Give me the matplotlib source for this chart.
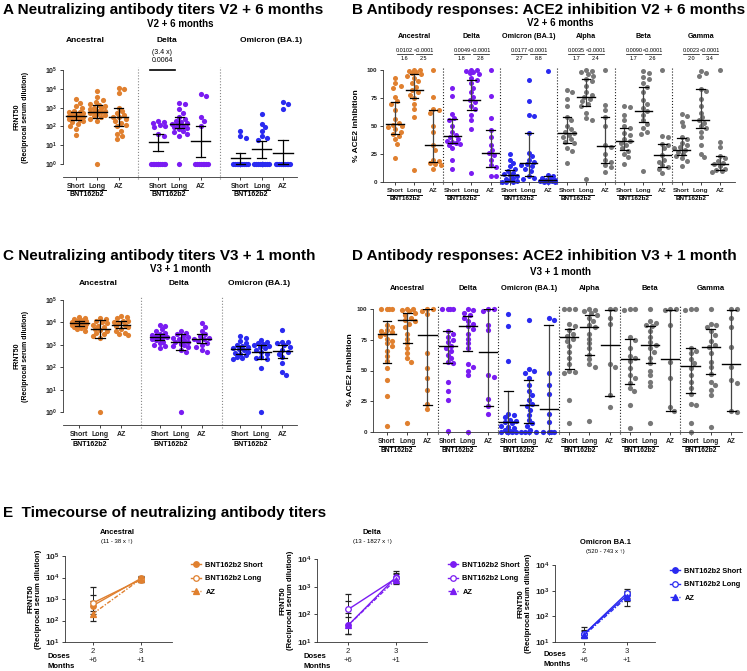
import numpy as np
import matplotlib
matplotlib.use('Agg')
import matplotlib.pyplot as plt
from matplotlib.lines import Line2D

plt.rcParams['font.family'] = ['Liberation Sans', 'DejaVu Sans']
plt.rcParams['font.weight'] = 'bold'
plt.rcParams['mathtext.fontset'] = 'custom'
plt.rcParams['mathtext.rm'] = 'Liberation Sans:bold'
plt.rcParams['mathtext.bf'] = 'Liberation Sans:bold'

groups = ['Short', 'Long', 'AZ']
frnt_variants = ['Ancestral', 'Delta', 'Omicron (BA.1)']
ace_variants = ['Ancestral', 'Delta', 'Omicron (BA.1)', 'Alpha', 'Beta', 'Gamma']

# --- A: FRNT50, V2 + 6 months (Short, Long, AZ) ---
a_ancestral = [
    [3000, 1800, 1200, 900, 700, 600, 550, 500, 450, 400, 380, 350, 320, 300, 280, 250, 220, 200, 170, 140, 100, 70, 35],
    [8000, 3500, 2500, 2000, 1600, 1400, 1200, 1000, 900, 800, 700, 650, 600, 550, 500, 450, 400, 350, 300, 250, 200, 1],
    [11000, 10000, 6000, 1000, 700, 500, 400, 320, 300, 250, 200, 150, 120, 100, 60, 40, 30, 22]]
a_delta = [
    [200, 180, 150, 120, 100, 90, 40, 30, 1, 1, 1, 1, 1, 1, 1, 1, 1, 1],
    [1800, 1500, 800, 500, 300, 250, 200, 180, 150, 140, 120, 100, 90, 80, 70, 60, 50, 40, 30, 1],
    [5000, 4000, 300, 200, 100, 1, 1, 1, 1, 1, 1, 1, 1]]
a_omicron = [
    [55, 30, 25, 1, 1, 1, 1, 1, 1, 1, 1, 1, 1, 1, 1, 1, 1],
    [450, 130, 90, 60, 30, 25, 20, 1, 1, 1, 1, 1, 1, 1, 1, 1, 1, 1, 1, 1],
    [2000, 1500, 800, 1, 1, 1, 1, 1, 1, 1, 1, 1, 1]]
a_med = [[370, 600, 320], [14, 140, 16], [2, 6, 3.8]]
a_lo = [[230, 270, 110], [5, 80, 2.5], [1, 2.2, 1]]
a_hi = [[600, 1400, 900], [38, 300, 100], [3.8, 16, 18]]

# --- B: % ACE2 inhibition, V2 + 6 months ---
b_ancestral = [
    [93, 88, 86, 84, 76, 72, 70, 64, 56, 53, 51, 50, 49, 47, 45, 43, 41, 38, 34, 21],
    [100, 100, 99, 98, 97, 96, 95, 93, 90, 88, 85, 82, 80, 78, 75, 70, 65, 58, 11],
    [100, 76, 65, 64, 62, 50, 45, 33, 29, 20, 19, 17, 16, 15, 12]]
b_delta = [
    [84, 77, 61, 57, 55, 50, 45, 42, 40, 38, 37, 36, 35, 34, 33, 30, 20, 12],
    [100, 100, 99, 98, 97, 96, 93, 91, 88, 84, 80, 76, 73, 71, 68, 65, 60, 55, 47, 8],
    [100, 77, 57, 46, 40, 33, 29, 26, 24, 20, 15, 13, 5, 5]]
b_omicron = [
    [25, 20, 17, 14, 12, 10, 8, 7, 6, 5, 4, 3, 2, 1, 0, 0, 0],
    [91, 72, 60, 59, 44, 26, 23, 20, 18, 16, 15, 14, 12, 10, 5, 4, 3],
    [99, 6, 5, 4, 3, 2, 2, 1, 1, 0, 0, 0]]
b_alpha = [
    [82, 80, 74, 68, 58, 55, 50, 47, 45, 44, 42, 40, 38, 36, 35, 30, 28, 17],
    [100, 99, 98, 96, 95, 92, 90, 86, 80, 78, 76, 74, 72, 70, 68, 62, 57, 55, 3],
    [100, 69, 64, 58, 50, 33, 31, 25, 20, 18, 15, 13, 9]]
b_beta = [
    [68, 67, 60, 55, 50, 48, 44, 42, 38, 37, 35, 33, 30, 28, 25, 22, 16],
    [99, 97, 94, 92, 88, 85, 80, 73, 70, 66, 63, 60, 55, 52, 48, 45, 43, 10],
    [100, 41, 40, 34, 33, 30, 24, 20, 18, 15, 13, 12, 8]]
b_gamma = [
    [61, 59, 54, 50, 40, 38, 35, 33, 31, 30, 29, 27, 25, 23, 21, 19, 14],
    [99, 97, 95, 83, 81, 74, 68, 62, 58, 55, 53, 50, 48, 45, 40, 33, 25, 22],
    [100, 36, 31, 23, 21, 19, 17, 16, 14, 12, 11, 10, 9]]
b_med = [[52, 82, 33], [41, 73, 26], [6, 17, 2], [44, 76, 32], [37, 63, 24], [29, 55, 16]]
b_lo = [[43, 75, 18], [35, 64, 13], [1, 5, 0], [35, 68, 17], [29, 54, 13], [24, 48, 11]]
b_hi = [[71, 96, 64], [56, 91, 46], [11, 44, 5], [58, 92, 58], [48, 85, 34], [39, 83, 23]]
b_pvals = [['0.0102', '<0.0001'], ['0.0049', '<0.0001'], ['0.0177', '<0.0001'],
           ['0.0035', '<0.0001'], ['0.0090', '<0.0001'], ['0.0023', '<0.0001']]
b_folds = [['1.6', '2.5'], ['1.8', '2.8'], ['2.7', '8.8'], ['1.7', '2.4'], ['1.7', '2.6'], ['2.0', '3.4']]

# --- C: FRNT50, V3 + 1 month ---
c_ancestral = [
    [18000, 16000, 14000, 13000, 12000, 11000, 10500, 10000, 9500, 9000, 8500, 8000, 7500, 7000, 6500, 6000, 5500, 5000, 4000],
    [16000, 14000, 12000, 10000, 9000, 8000, 7000, 6000, 5000, 4500, 4000, 3500, 3000, 2500, 2000, 1],
    [20000, 17000, 15000, 12000, 11000, 10000, 9000, 8000, 7000, 6000, 5000, 4000, 3500, 3000, 2700]]
c_delta = [
    [8000, 7000, 5000, 4000, 3500, 3000, 2700, 2500, 2300, 2200, 2000, 1800, 1600, 1400, 1200, 1000, 900, 700],
    [4000, 3500, 3000, 2500, 2200, 2000, 1800, 1600, 1400, 1300, 1100, 1000, 900, 800, 600, 500, 1],
    [9500, 6500, 4000, 3000, 2500, 2000, 1900, 1800, 1500, 1200, 1000, 800, 600, 500]]
c_omicron = [
    [2600, 2000, 1500, 1200, 1000, 900, 800, 700, 650, 600, 500, 450, 400, 350, 300, 250, 230],
    [1600, 1400, 1200, 1100, 1000, 900, 800, 700, 600, 500, 400, 300, 250, 230, 95, 1],
    [4500, 1400, 1300, 1200, 1000, 800, 600, 500, 400, 300, 150, 60, 45]]
c_med = [[9000, 5000, 8000], [2200, 1300, 1900], [650, 480, 520]]
c_lo = [[7000, 2000, 5500], [1600, 600, 1200], [400, 230, 270]]
c_hi = [[11500, 13000, 11000], [3000, 3000, 3000], [900, 1000, 1000]]

# --- D: % ACE2 inhibition, V3 + 1 month ---
d_ancestral = [
    [100, 100, 100, 100, 87, 85, 83, 82, 81, 80, 78, 76, 74, 72, 70, 66, 62, 58, 52, 42, 29, 5],
    [100, 100, 99, 98, 97, 95, 93, 91, 90, 88, 85, 80, 76, 72, 68, 64, 60, 57, 7],
    [100, 100, 98, 96, 64, 52, 44, 34, 23, 19]]
d_delta = [
    [100, 100, 100, 100, 82, 80, 77, 75, 73, 70, 68, 66, 63, 60, 57, 56, 41, 33, 26, 1],
    [100, 99, 97, 95, 93, 90, 88, 86, 84, 80, 76, 72, 68, 55, 53, 50, 46, 0],
    [100, 100, 98, 87, 83, 46, 45, 27, 21, 15]]
d_omicron = [
    [96, 86, 58, 15, 14, 12, 10, 9, 8, 7, 5, 4, 3, 2, 1, 0, 0, 0, 0, 0],
    [91, 51, 50, 48, 44, 38, 33, 30, 26, 23, 21, 18, 14, 10, 7, 5, 2, 0, 0, 0, 0],
    [93, 91, 48, 38, 31, 15, 8, 0, 0, 0, 0]]
d_alpha = [
    [100, 100, 100, 88, 86, 83, 80, 78, 76, 74, 70, 65, 60, 55, 50, 49, 48, 26, 7],
    [100, 99, 98, 97, 95, 93, 90, 87, 85, 80, 76, 72, 68, 63, 59, 55, 53, 9],
    [100, 100, 93, 88, 55, 53, 30, 20]]
d_beta = [
    [100, 100, 99, 77, 75, 68, 62, 60, 58, 52, 46, 44, 40, 36, 33, 22, 3],
    [100, 90, 89, 87, 86, 82, 77, 73, 71, 68, 65, 60, 56, 50, 46, 41, 37, 7],
    [100, 100, 99, 87, 57, 44, 20, 17]]
d_gamma = [
    [100, 100, 99, 68, 66, 64, 59, 56, 52, 46, 41, 36, 31, 23, 22, 7, 0],
    [100, 88, 87, 85, 82, 79, 74, 71, 69, 64, 57, 53, 47, 41, 38, 34, 30, 4],
    [100, 100, 93, 85, 69, 53, 42, 40, 17, 16]]
d_med = [[80, 91, 79], [70, 86, 65], [8, 22, 19], [77, 85, 71], [59, 71, 59], [54, 69, 55]]
d_lo = [[56, 72, 22], [56, 66, 21], [0, 7, 0], [51, 63, 29], [39, 56, 17], [32, 47, 17]]
d_hi = [[90, 97, 100], [82, 94, 100], [33, 42, 87], [84, 95, 99], [76, 86, 99], [68, 84, 99]]

# --- E: timecourse (dose 2 +6 months, dose 3 +1 month), series Short, Long, AZ ---
e_doses = [2, 3]
e_series = ['BNT162b2 Short', 'BNT162b2 Long', 'AZ']
e_anc_mid = [[490, 9000], [650, 8000], [205, 8500]]
e_anc_lo = [[200, 7000], [270, 6000], [100, 6500]]
e_anc_hi = [[1550, 11500], [3800, 11000], [800, 11000]]
e_delta_mid = [[40, 2200], [150, 2000], [40, 1800]]
e_delta_lo = [[20, 1600], [80, 1320], [20, 1300]]
e_delta_hi = [[115, 3000], [550, 3700], [295, 2800]]
e_omi_mid = [[20, 650], [20, 800], [18, 550]]
e_omi_lo = [[15, 400], [15, 500], [14, 260]]
e_omi_hi = [[37, 1000], [30, 1170], [28, 900]]

ORANGE = '#E0802F'
PURPLE = '#7A1CF2'
BLUE = '#2A2AF0'
GREY = '#777777'

W, H = 747, 671
fig = plt.figure(figsize=(W / 100, H / 100), dpi=100)


def fx(px):
    return px / W


def fy(px):
    return 1 - px / H


def add_ax(l, t, r, b):
    return fig.add_axes([l / W, 1 - b / H, (r - l) / W, (b - t) / H])


def swarm(ax, x0, vals, d=4.6, maxw=0.42):
    pts = ax.transData.transform([(x0, v) for v in vals])
    ys = pts[:, 1]
    unit = ax.transData.transform([(1, 0)])[0, 0] - ax.transData.transform([(0, 0)])[0, 0]
    maxpx = maxw * unit
    step = d / 2.5
    cands = [0.0]
    k = 1
    while k * step <= maxpx:
        cands += [k * step, -k * step]
        k += 1
    placed = []
    offs = []
    for y in ys:
        best, bestd = 0.0, -1
        for c in cands:
            md = min([np.hypot(c - px, y - py) for px, py in placed] or [1e9])
            if md >= d:
                best = c
                break
            if md > bestd:
                best, bestd = c, md
        placed.append((best, y))
        offs.append(best)
    return x0 + np.array(offs) / unit


def style(ax, fs):
    for s in ['top', 'right']:
        ax.spines[s].set_visible(False)
    for s in ['left', 'bottom']:
        ax.spines[s].set_linewidth(0.6)
        ax.spines[s].set_color('#333333')
    ax.tick_params(length=2.5, width=0.6, labelsize=fs, pad=1.5, colors='#222222')


def strip(ax, data, colors, med, lo, hi, period, size, vcol):
    for v, gvals in enumerate(data):
        for g, vals in enumerate(gvals):
            x0 = period * v + g
            xs = swarm(ax, x0, vals)
            ax.scatter(xs, vals, s=size, color=colors[v], lw=0, zorder=2, clip_on=False)
            ax.plot([x0, x0], [lo[v][g], hi[v][g]], color=vcol, lw=0.9, zorder=3)
            for yy in (lo[v][g], hi[v][g]):
                ax.plot([x0 - 0.22, x0 + 0.22], [yy, yy], color='k', lw=0.9, zorder=3)
            ax.plot([x0 - 0.45, x0 + 0.45], [med[v][g]] * 2, color='k', lw=1.0, zorder=3)


def group_labels(ax, nv, period, fs, tick_fs, bnt_px, line_px):
    ticks = [period * v + g for v in range(nv) for g in range(3)]
    ax.set_xticks(ticks)
    ax.set_xticklabels(groups * nv, fontsize=tick_fs, fontweight='bold')
    hpx = ax.get_window_extent().height
    tr = ax.get_xaxis_transform()
    for v in range(nv):
        x0 = period * v
        ax.text(x0 + 0.5, -bnt_px / hpx, 'BNT162b2', transform=tr, ha='center', va='center',
                fontsize=fs, fontweight='bold')
        ax.plot([x0 - 0.4, x0 + 1.4], [-line_px / hpx] * 2, transform=tr, color='k', lw=0.7,
                clip_on=False)


def log_axis(ax, ymin):
    ax.set_yscale('log')
    ax.set_ylim(ymin, 1e5)
    ax.set_yticks([1, 10, 100, 1e3, 1e4, 1e5])
    ax.set_yticklabels([r'$\mathbf{10^{%d}}$' % i for i in range(6)])
    ax.minorticks_off()
    ax.spines['left'].set_bounds(1, 1e5)


def separators(ax, xs, color, ls):
    for x in xs:
        ax.axvline(x, ymin=-0.02, ymax=1.03, color=color, lw=0.8, ls=ls, clip_on=False, zorder=1)


TITLE_FS = 11

# ---------------- Panel A ----------------
fig.text(fx(3), fy(14), 'A Neutralizing antibody titers V2 + 6 months', fontsize=TITLE_FS,
         fontweight='bold', va='baseline')
fig.text(fx(180), fy(24), 'V2 + 6 months', fontsize=7, fontweight='bold', ha='center', va='center')
axA = add_ax(63, 70, 297, 177)
pA = 3.85
axA.set_xlim(-0.61, 10.36)
log_axis(axA, 10 ** -0.69)
style(axA, 5)
strip(axA, [a_ancestral, a_delta, a_omicron], [ORANGE, PURPLE, BLUE], a_med, a_lo, a_hi, pA, 14, 'k')
separators(axA, [2.9, 2.9 + pA], '#888888', ':')
group_labels(axA, 3, pA, 5, 5, 18, 13)
for v, (name, off) in enumerate(zip(frnt_variants, [0.45, 0.4, 1.45])):
    axA.text(pA * v + off, 1 + 29 / 107, name, transform=axA.get_xaxis_transform(),
             ha='center', va='center', fontsize=6, fontweight='bold')
axA.plot([pA - 0.4, pA + 0.8], [1e5, 1e5], color='k', lw=1.2, clip_on=False)
axA.text(pA + 0.2, 1 + 18 / 107, '(3.4 x)', transform=axA.get_xaxis_transform(), ha='center',
         va='center', fontsize=5, fontweight='normal')
axA.text(pA + 0.2, 1 + 9 / 107, '0.0064', transform=axA.get_xaxis_transform(), ha='center',
         va='center', fontsize=5, fontweight='normal')
fig.text(fx(21), fy(117), 'FRNT50\n(Reciprocal serum dilution)', rotation=90, ha='center',
         va='center', fontsize=5, fontweight='bold', linespacing=1.3)

# ---------------- Panel B ----------------
fig.text(fx(352), fy(14), 'B Antibody responses: ACE2 inhibition V2 + 6 months', fontsize=TITLE_FS,
         fontweight='bold', va='baseline')
fig.text(fx(560), fy(23), 'V2 + 6 months', fontsize=7, fontweight='bold', ha='center', va='center')
axB = add_ax(383, 70, 735, 182)
axB.set_xlim(-0.63, 17.8)
axB.set_ylim(0, 100)
axB.set_yticks([0, 25, 50, 75, 100])
style(axB, 4.5)
strip(axB, [b_ancestral, b_delta, b_omicron, b_alpha, b_beta, b_gamma],
      [ORANGE, PURPLE, BLUE, GREY, GREY, GREY], b_med, b_lo, b_hi, 3, 13, '#444444')
separators(axB, [2.5 + 3 * i for i in range(5)], '#222222', ':')
group_labels(axB, 6, 3, 4.6, 4.6, 17, 13)
trB = axB.get_xaxis_transform()
for v, name in enumerate(ace_variants):
    axB.text(3 * v + 1, 1 + 33 / 112, name, transform=trB, ha='center', va='center',
             fontsize=5.2, fontweight='bold')
    for j in range(2):
        xc = 3 * v + 0.5 + j
        axB.text(xc, 1 + 19.5 / 112, b_pvals[v][j], transform=trB, ha='center', va='center',
                 fontsize=4, fontweight='normal')
        axB.plot([xc - 0.42, xc + 0.42], [1 + 16.5 / 112] * 2, transform=trB, color='k', lw=0.5,
                 clip_on=False)
        axB.text(xc, 1 + 11 / 112, b_folds[v][j], transform=trB, ha='center', va='center',
                 fontsize=4, fontweight='normal')
fig.text(fx(357), fy(126), '% ACE2 inhibition', rotation=90, ha='center', va='center',
         fontsize=6, fontweight='bold')

# ---------------- Panel C ----------------
fig.text(fx(3), fy(260), 'C Neutralizing antibody titers V3 + 1 month', fontsize=TITLE_FS,
         fontweight='bold', va='baseline')
fig.text(fx(180), fy(269), 'V3 + 1 month', fontsize=7, fontweight='bold', ha='center', va='center')
axC = add_ax(63, 300, 297, 425)
axC.set_xlim(-0.77, 10.4)
log_axis(axC, 10 ** -0.58)
style(axC, 5)
strip(axC, [c_ancestral, c_delta, c_omicron], [ORANGE, PURPLE, BLUE], c_med, c_lo, c_hi, pA, 14, 'k')
separators(axC, [2.95, 2.95 + pA], '#888888', ':')
group_labels(axC, 3, pA, 5, 5, 19, 14)
for v, name in enumerate(frnt_variants):
    axC.text(pA * v + 0.9, 1 + 17 / 125, name, transform=axC.get_xaxis_transform(),
             ha='center', va='center', fontsize=6, fontweight='bold')
fig.text(fx(21), fy(356), 'FRNT50\n(Reciprocal serum dilution)', rotation=90, ha='center',
         va='center', fontsize=5, fontweight='bold', linespacing=1.3)

# ---------------- Panel D ----------------
fig.text(fx(352), fy(260), 'D Antibody responses: ACE2 inhibition V3 + 1 month', fontsize=TITLE_FS,
         fontweight='bold', va='baseline')
fig.text(fx(560), fy(272), 'V3 + 1 month', fontsize=7, fontweight='bold', ha='center', va='center')
axD = add_ax(373, 309, 742, 432)
axD.set_xlim(-0.69, 17.54)
axD.set_ylim(0, 100)
axD.set_yticks([0, 25, 50, 75, 100])
style(axD, 4.5)
strip(axD, [d_ancestral, d_delta, d_omicron, d_alpha, d_beta, d_gamma],
      [ORANGE, PURPLE, BLUE, GREY, GREY, GREY], d_med, d_lo, d_hi, 3, 14, '#444444')
separators(axD, [2.5 + 3 * i for i in range(5)], '#222222', ':')
group_labels(axD, 6, 3, 4.8, 4.8, 18, 14)
for v, name in enumerate(ace_variants):
    axD.text(3 * v + 1, 1 + 20 / 123, name, transform=axD.get_xaxis_transform(), ha='center',
             va='center', fontsize=5.5, fontweight='bold')
fig.text(fx(350), fy(370), '% ACE2 inhibition', rotation=90, ha='center', va='center',
         fontsize=6, fontweight='bold')

# ---------------- Panel E ----------------
fig.text(fx(3), fy(517), 'E  Timecourse of neutralizing antibody titers', fontsize=TITLE_FS,
         fontweight='bold', va='baseline')

e_panels = [
    ('Ancestral', '(11 - 38 x \u2191)', ORANGE, e_anc_mid, e_anc_lo, e_anc_hi,
     (65, 556, 172, 642), (1.42, 3.65), 5, (117, 533), (187, 558), (48, 657)),
    ('Delta', '(13 - 1827 x \u2191)', PURPLE, e_delta_mid, e_delta_lo, e_delta_hi,
     (317, 559, 427, 642), (1.35, 3.65), 4, (372, 533), (444, 558), (303, 657)),
    ('Omicron BA.1', '(520 - 743 x \u2191)', BLUE, e_omi_mid, e_omi_lo, e_omi_hi,
     (555, 565, 655, 642), (1.33, 3.65), 4, (605, 542), (666, 564), (543, 654)),
]
markers = ['o', 'o', '^']
lstyles = ['-', '-', (0, (3, 1.2, 1, 1.2))]
for name, sub, col, mid, lo, hi, box, xl, top, tpos, lpos, dpos in e_panels:
    ax = add_ax(*box)
    ax.set_yscale('log')
    ax.set_ylim(10, 10 ** top)
    ax.set_xlim(*xl)
    ax.set_yticks([10 ** i for i in range(1, top + 1)])
    ax.set_yticklabels([r'$\mathbf{10^{%d}}$' % i for i in range(1, top + 1)])
    ax.minorticks_off()
    style(ax, 6)
    ax.set_xticks(e_doses)
    ax.set_xticklabels(['2\n+6', '3\n+1'], fontsize=5.5, fontweight='normal', linespacing=1.5)
    handles = []
    for i in range(3):
        m = np.array(mid[i], dtype=float)
        err = [m - np.array(lo[i]), np.array(hi[i]) - m]
        face = 'white' if i == 1 else col
        ax.errorbar(e_doses, m, yerr=err, color=col, ecolor='#222222', elinewidth=0.7,
                    capsize=2, capthick=0.7, lw=1.0, ls=lstyles[i], marker=markers[i],
                    ms=4, mfc=face, mec=col, mew=0.9, clip_on=False)
        handles.append(Line2D([], [], color=col, lw=1.0, ls=lstyles[i], marker=markers[i],
                              ms=4, mfc=face, mec=col, mew=0.9, label=e_series[i]))
    leg = ax.legend(handles=handles, loc='upper left', bbox_to_anchor=(fx(lpos[0]), fy(lpos[1])),
                    bbox_transform=fig.transFigure, frameon=False, fontsize=5.3,
                    handlelength=1.4, handletextpad=0.6, labelspacing=0.85, borderpad=0)
    for t in leg.get_texts():
        t.set_fontweight('bold')
    fig.text(fx(tpos[0]), fy(tpos[1]), name, ha='center', va='center', fontsize=5.5,
             fontweight='bold')
    fig.text(fx(tpos[0]), fy(tpos[1] + 9), sub, ha='center', va='center', fontsize=4.3,
             fontweight='normal')
    fig.text(fx(dpos[0]), fy(dpos[1]), 'Doses', ha='left', va='center', fontsize=5.5,
             fontweight='bold')
    fig.text(fx(dpos[0]), fy(dpos[1] + 10), 'Months', ha='left', va='center', fontsize=5.5,
             fontweight='bold')
    ycen = (box[1] + box[3]) / 2
    fig.text(fx(box[0] - 30), fy(ycen), 'FRNT50\n(Reciprocal serum dilution)', rotation=90,
             ha='center', va='center', fontsize=5.5, fontweight='bold', linespacing=1.2)

fig.savefig('out.png', dpi=100)
